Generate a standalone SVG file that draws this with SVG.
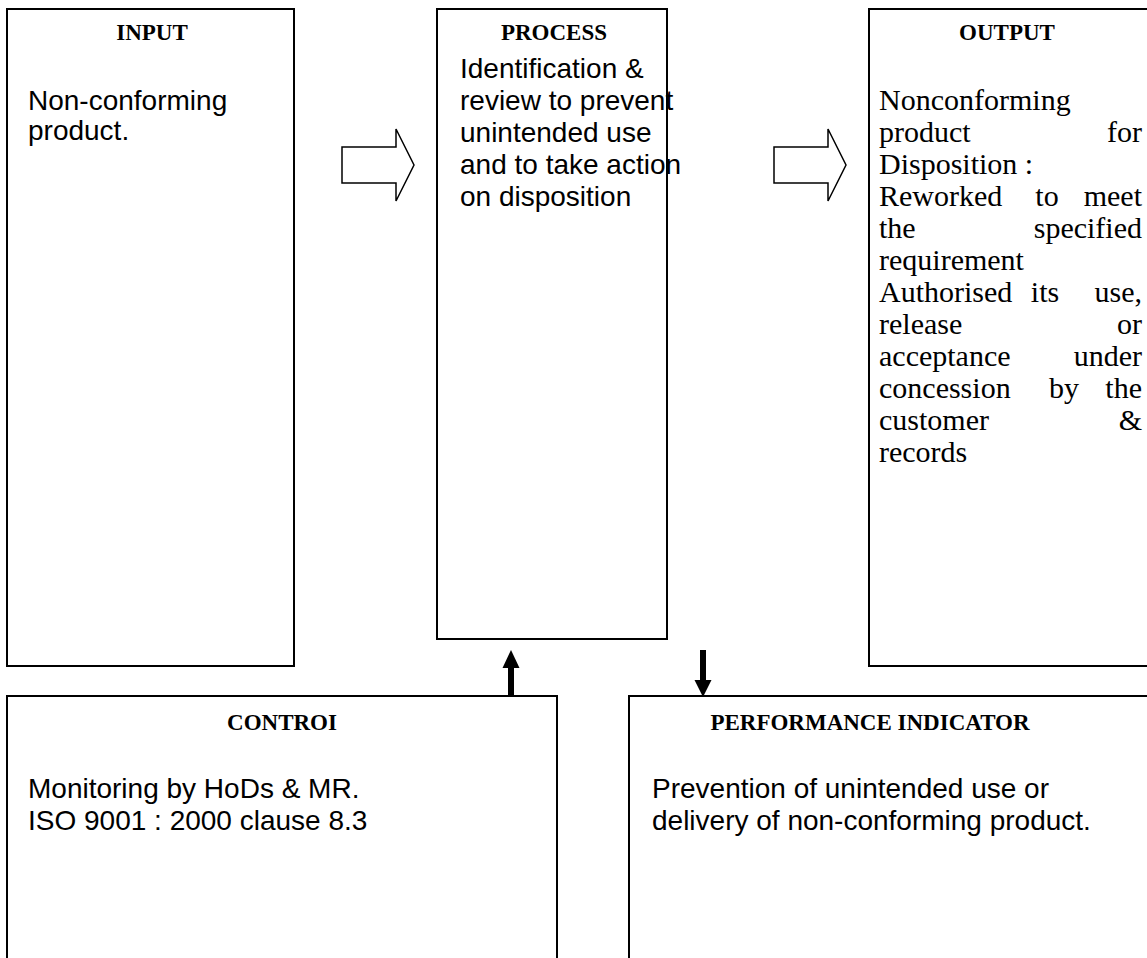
<svg xmlns="http://www.w3.org/2000/svg" width="1147" height="958" viewBox="0 0 1147 958">
<style>
.box{fill:#fff;stroke:#000;stroke-width:2}
.title{font-family:"Liberation Serif","Times New Roman",serif;font-weight:bold;font-size:23px;fill:#000;text-anchor:middle}
.body{font-family:"Liberation Sans",Arial,sans-serif;font-size:28px;fill:#000}
.serif{font-family:"Liberation Serif","Times New Roman",serif;font-size:30px;fill:#000}
.blk{fill:#fff;stroke:#000;stroke-width:1.5;stroke-linejoin:miter}
.solid{fill:#000;stroke:none}
</style>
<rect width="1147" height="958" fill="#fff"/>
<g id="input">
<rect class="box" x="7" y="9" width="287" height="657"/>
<text class="title" x="152" y="40">INPUT</text>
<text class="body" x="28" y="110">Non-conforming</text>
<text class="body" x="28" y="140">product.</text>
</g>
<g id="process">
<rect class="box" x="437" y="9" width="230" height="630"/>
<text class="title" x="554" y="40">PROCESS</text>
<text class="body" x="460" y="78">Identification &amp;</text>
<text class="body" x="460" y="110">review to prevent</text>
<text class="body" x="460" y="142">unintended use</text>
<text class="body" x="460" y="174">and to take action</text>
<text class="body" x="460" y="206">on disposition</text>
</g>
<g id="output">
<rect class="box" x="869" y="9" width="290" height="657"/>
<text class="title" x="1007" y="40">OUTPUT</text>
<g class="serif">
<text x="879" y="110">Nonconforming</text>
<text x="879" y="142">product</text><text x="1142" y="142" text-anchor="end">for</text>
<text x="879" y="174">Disposition :</text>
<text x="879" y="206">Reworked</text><text x="1047" y="206" text-anchor="middle">to</text><text x="1142" y="206" text-anchor="end">meet</text>
<text x="879" y="238">the</text><text x="1142" y="238" text-anchor="end">specified</text>
<text x="879" y="270">requirement</text>
<text x="879" y="302">Authorised</text><text x="1045" y="302" text-anchor="middle">its</text><text x="1142" y="302" text-anchor="end">use,</text>
<text x="879" y="334">release</text><text x="1142" y="334" text-anchor="end">or</text>
<text x="879" y="366">acceptance</text><text x="1142" y="366" text-anchor="end">under</text>
<text x="879" y="398">concession</text><text x="1064" y="398" text-anchor="middle">by</text><text x="1142" y="398" text-anchor="end">the</text>
<text x="879" y="430">customer</text><text x="1142" y="430" text-anchor="end">&amp;</text>
<text x="879" y="462">records</text>
</g>
</g>
<g id="control">
<rect class="box" x="7" y="696" width="550" height="280"/>
<text class="title" x="282" y="730">CONTROI</text>
<text class="body" x="28" y="798">Monitoring by HoDs &amp; MR.</text>
<text class="body" x="28" y="830">ISO 9001 : 2000 clause 8.3</text>
</g>
<g id="performance">
<rect class="box" x="629" y="696" width="540" height="280"/>
<text class="title" x="870" y="730">PERFORMANCE INDICATOR</text>
<text class="body" x="652" y="798">Prevention of unintended use or</text>
<text class="body" x="652" y="830">delivery of non-conforming product.</text>
</g>
<g id="connectors">
<polygon class="blk" points="342,147 396,147 396,129 414,165 396,201 396,183 342,183"/>
<polygon class="blk" points="774,147 828,147 828,129 846,165 828,201 828,183 774,183"/>
<rect class="solid" x="508" y="667" width="6" height="30"/>
<polygon class="solid" points="511,650 502.5,668 519.5,668"/>
<rect class="solid" x="700" y="650" width="6" height="31"/>
<polygon class="solid" points="703,697 694.5,680 711.5,680"/>
</g>
</svg>
